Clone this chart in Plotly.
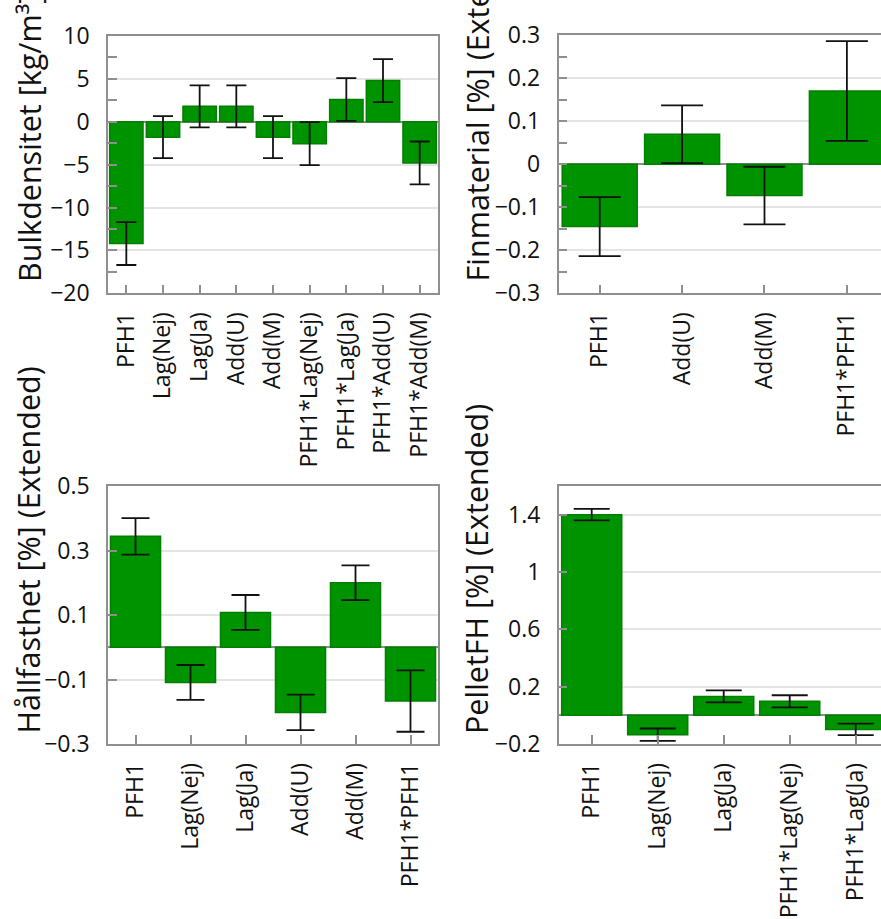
import plotly.graph_objects as go

# ---- data -------------------------------------------------------------
bulk_terms = ["PFH1", "Lag(Nej)", "Lag(Ja)", "Add(U)", "Add(M)",
              "PFH1*Lag(Nej)", "PFH1*Lag(Ja)", "PFH1*Add(U)", "PFH1*Add(M)"]
bulk_coef = [-14.2, -1.8, 1.8, 1.8, -1.8, -2.55, 2.6, 4.8, -4.8]
bulk_ci = [2.5, 2.45, 2.45, 2.45, 2.45, 2.5, 2.5, 2.5, 2.5]

fin_terms = ["PFH1", "Add(U)", "Add(M)", "PFH1*PFH1"]
fin_coef = [-0.145, 0.0695, -0.073, 0.170]
fin_ci = [0.0685, 0.067, 0.067, 0.116]

hall_terms = ["PFH1", "Lag(Nej)", "Lag(Ja)", "Add(U)", "Add(M)", "PFH1*PFH1"]
hall_coef = [0.344, -0.109, 0.108, -0.202, 0.200, -0.167]
hall_ci = [0.0565, 0.054, 0.054, 0.055, 0.054, 0.095]

pfh_terms = ["PFH1", "Lag(Nej)", "Lag(Ja)", "PFH1*Lag(Nej)", "PFH1*Lag(Ja)"]
pfh_coef = [1.40, -0.135, 0.132, 0.098, -0.098]
pfh_ci = [0.040, 0.043, 0.042, 0.042, 0.040]

titles = ["Bulkdensitet [kg/m³] (Extended)", "Finmaterial [%] (Extended)",
          "Hållfasthet [%] (Extended)", "PelletFH [%] (Extended)"]

# ---- styling ----------------------------------------------------------
W, H = 881, 919
FONT = "Open Sans"
BAR = "#009300"
BAR_EDGE = "#007f00"
AXIS = "#8f8f8f"
GRID = "#e4e4e4"
TICK_SIZE = 23
TITLE_SIZE = 30.5


def px_x(p):
    return p / W


def px_y(p):
    return 1 - p / H


fig = go.Figure()

panels = [
    dict(terms=bulk_terms, coef=bulk_coef, ci=bulk_ci, xpx=(108, 438), ypx=(36, 293.3),
         yr=[-20, 10], dt=5, t0=-20, mdt=2.5, cap=10, xmax=None, mirror=True),
    dict(terms=fin_terms, coef=fin_coef, ci=fin_ci, xpx=(558.5, 881), ypx=(35, 293.3),
         yr=[-0.3, 0.3], dt=0.1, t0=-0.3, mdt=0.05, cap=21, xmax=3.414, mirror=False),
    dict(terms=hall_terms, coef=hall_coef, ci=hall_ci, xpx=(108, 438), ypx=(486, 744),
         yr=[-0.3, 0.5], dt=0.2, t0=-0.3, mdt=None, cap=14, xmax=None, mirror=True),
    dict(terms=pfh_terms, coef=pfh_coef, ci=pfh_ci, xpx=(558.7, 881), ypx=(486, 744),
         yr=[-0.2, 1.6], dt=0.4, t0=-0.2, mdt=None, cap=18, xmax=4.383, mirror=False),
]

layout_axes = {}
for i, p in enumerate(panels, start=1):
    xa = "x" if i == 1 else f"x{i}"
    ya = "y" if i == 1 else f"y{i}"
    fig.add_trace(go.Bar(
        x=p["terms"], y=p["coef"], xaxis=xa, yaxis=ya,
        marker=dict(color=BAR, line=dict(color=BAR_EDGE, width=1.5)),
        width=0.91,
        error_y=dict(type="data", array=p["ci"], visible=True,
                     color="#111111", thickness=1.8, width=p["cap"]),
        showlegend=False, hoverinfo="skip",
    ))
    n = len(p["terms"])
    xr = [-0.5, p["xmax"] if p["xmax"] is not None else n - 0.5]
    xkey = "xaxis" if i == 1 else f"xaxis{i}"
    ykey = "yaxis" if i == 1 else f"yaxis{i}"
    layout_axes[xkey] = dict(
        domain=[px_x(p["xpx"][0]), px_x(p["xpx"][1])],
        anchor=ya, range=xr, type="category", automargin=False,
        showline=True, linecolor=AXIS, linewidth=1.5, mirror=True,
        ticks="inside", ticklen=9, tickcolor=AXIS, tickwidth=1.5,
        tickangle=-90, tickfont=dict(family=FONT, size=TICK_SIZE, color="#111111"),
        ticklabelstandoff=8, showgrid=False, zeroline=False,
    )
    yax = dict(
        domain=[px_y(p["ypx"][1]), px_y(p["ypx"][0])],
        anchor=xa, range=p["yr"], tick0=p["t0"], dtick=p["dt"], automargin=False,
        showline=True, linecolor=AXIS, linewidth=1.5, mirror=p["mirror"],
        ticks="inside", ticklen=9, tickcolor=AXIS, tickwidth=1.5,
        tickfont=dict(family=FONT, size=TICK_SIZE, color="#111111"),
        ticklabelstandoff=12,
        showgrid=True, gridcolor=GRID, gridwidth=1.5,
        zeroline=True, zerolinecolor=AXIS, zerolinewidth=1.5,
    )
    if p["mdt"] is not None:
        yax["minor"] = dict(dtick=p["mdt"], ticks="inside", ticklen=9,
                            tickcolor=AXIS, showgrid=False)
    layout_axes[ykey] = yax

# rotated axis titles, anchored at their lower end
title_pos = [(29, 284), (476, 284), (27, 736), (476, 736)]
for t, (tx, ty) in zip(titles, title_pos):
    fig.add_annotation(
        text=t, textangle=-90, xref="paper", yref="paper",
        x=px_x(tx), y=px_y(ty), xanchor="center", yanchor="bottom",
        showarrow=False, font=dict(family=FONT, size=TITLE_SIZE, color="#111111"),
    )

fig.update_layout(
    width=W, height=H, autosize=False,
    margin=dict(l=0, r=0, t=0, b=0, autoexpand=False),
    paper_bgcolor="white", plot_bgcolor="white",
    bargap=0.09,
    **layout_axes,
)

fig.write_html("out.html")
